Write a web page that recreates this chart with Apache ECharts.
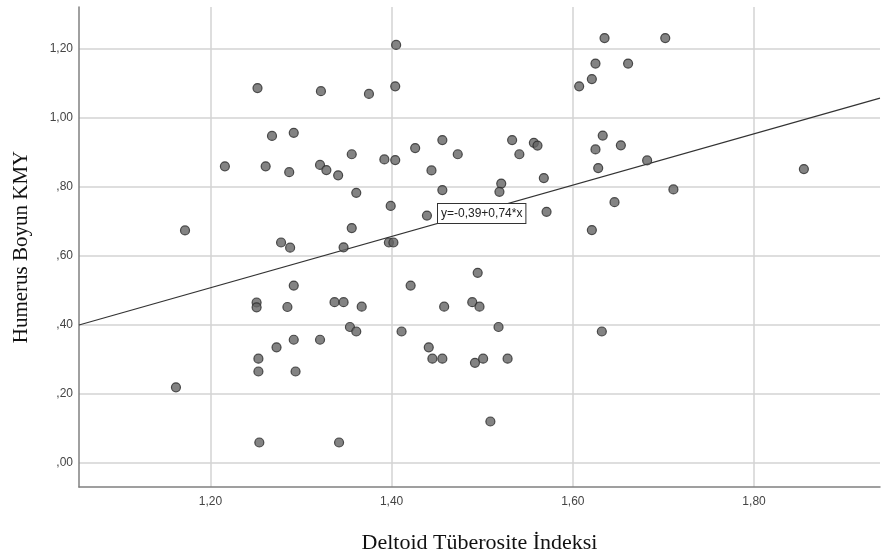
<!DOCTYPE html>
<html>
<head>
<meta charset="utf-8">
<script src="https://cdn.jsdelivr.net/npm/echarts@6/dist/echarts.min.js"></script>
<style>
  html, body { margin: 0; padding: 0; background: #fff; }
  #chart { width: 881px; height: 551px; }
</style>
</head>
<body>
<div id="chart"></div>
<script>
// Deltoid Tüberosite İndeksi (x) vs Humerus Boyun KMY (y)
var xValues = [
  1.252, 1.268, 1.292, 1.216, 1.261, 1.287, 1.172, 1.278, 1.288, 1.292,
  1.251, 1.251, 1.285, 1.292, 1.273, 1.253, 1.253, 1.294, 1.162, 1.254,
  1.405, 1.322, 1.375, 1.404, 1.607, 1.321, 1.328, 1.341, 1.356, 1.361,
  1.392, 1.404, 1.426, 1.456, 1.473, 1.444, 1.456, 1.399, 1.439, 1.356,
  1.347, 1.397, 1.402, 1.533, 1.541, 1.557, 1.561, 1.568, 1.521, 1.519,
  1.571, 1.337, 1.347, 1.367, 1.354, 1.361, 1.321, 1.342, 1.421, 1.411,
  1.441, 1.445, 1.456, 1.458, 1.495, 1.489, 1.497, 1.518, 1.492, 1.501,
  1.528, 1.509, 1.635, 1.702, 1.625, 1.661, 1.621, 1.633, 1.625, 1.653,
  1.628, 1.682, 1.711, 1.646, 1.621, 1.855, 1.632
];
var yValues = [
  1.087, 0.948, 0.957, 0.860, 0.860, 0.843, 0.674, 0.639, 0.624, 0.514,
  0.465, 0.451, 0.452, 0.357, 0.335, 0.302, 0.265, 0.265, 0.219, 0.059,
  1.212, 1.078, 1.070, 1.092, 1.092, 0.864, 0.849, 0.834, 0.895, 0.783,
  0.880, 0.878, 0.913, 0.936, 0.895, 0.848, 0.791, 0.745, 0.717, 0.681,
  0.625, 0.639, 0.639, 0.936, 0.895, 0.928, 0.920, 0.826, 0.810, 0.786,
  0.728, 0.466, 0.466, 0.453, 0.394, 0.381, 0.357, 0.059, 0.514, 0.381,
  0.335, 0.302, 0.302, 0.453, 0.551, 0.466, 0.453, 0.394, 0.290, 0.302,
  0.302, 0.120, 1.232, 1.232, 1.158, 1.158, 1.113, 0.949, 0.909, 0.921,
  0.855, 0.877, 0.793, 0.756, 0.675, 0.852, 0.381
];
var xTicks = [1.2, 1.4, 1.6, 1.8];
var yTicks = [0, 0.2, 0.4, 0.6, 0.8, 1.0, 1.2];
var xRange = [1.055, 1.939];
var yRange = [-0.07, 1.322];
// fit line y = a + b*x (as drawn)
var fitA = -0.385;
var fitB = 0.744;
var fitLabel = 'y=-0,39+0,74*x';

function fmt(v) {
  var s = v.toFixed(2).replace('.', ',');
  if (s.indexOf('0,') === 0) s = s.substring(1);
  return s;
}

var points = xValues.map(function (x, i) { return [x, yValues[i]]; });
var fitData = xRange.map(function (x) { return [x, fitA + fitB * x]; });

var chart = echarts.init(document.getElementById('chart'));
chart.setOption({
  animation: false,
  grid: { left: 79, right: 1, top: 7, bottom: 64, outerBoundsMode: 'none', containLabel: false },
  xAxis: {
    type: 'value',
    min: xRange[0],
    max: xRange[1],
    name: 'Deltoid Tüberosite İndeksi',
    nameLocation: 'middle',
    nameGap: 45,
    nameTextStyle: { fontFamily: 'Liberation Serif', fontSize: 22, color: '#111' },
    axisLine: { onZero: false, lineStyle: { color: '#808080', width: 1.5 } },
    axisTick: { show: false, customValues: xTicks },
    axisLabel: {
      customValues: xTicks,
      formatter: fmt,
      fontFamily: 'Liberation Sans', fontSize: 12, color: '#444', margin: 9
    },
    splitLine: { show: true, lineStyle: { color: '#d3d3d3', width: 1.5 } }
  },
  yAxis: {
    type: 'value',
    min: yRange[0],
    max: yRange[1],
    name: 'Humerus Boyun KMY',
    nameLocation: 'middle',
    nameGap: 47,
    nameTextStyle: { fontFamily: 'Liberation Serif', fontSize: 21, color: '#111' },
    axisLine: { show: true, onZero: false, lineStyle: { color: '#808080', width: 1.5 } },
    axisTick: { show: false, customValues: yTicks },
    axisLabel: {
      customValues: yTicks,
      formatter: fmt,
      fontFamily: 'Liberation Sans', fontSize: 12, color: '#444', margin: 6
    },
    splitLine: { show: true, lineStyle: { color: '#d3d3d3', width: 1.5 } }
  },
  series: [
    {
      type: 'line',
      data: fitData,
      symbol: 'none',
      silent: true,
      lineStyle: { color: '#333', width: 1.2 },
      z: 2
    },
    {
      type: 'scatter',
      data: points,
      symbolSize: 9,
      itemStyle: { color: '#646464', borderColor: '#2a2a2a', borderWidth: 1.2 },
      z: 3
    }
  ],
  graphic: [
    {
      type: 'text',
      left: 437,
      top: 203,
      z: 10,
      style: {
        text: fitLabel,
        fontFamily: 'Liberation Sans',
        fontSize: 12,
        fill: '#222',
        backgroundColor: '#fff',
        borderColor: '#333',
        borderWidth: 1,
        padding: [4, 3, 3, 3]
      }
    }
  ]
});
</script>
</body>
</html>
